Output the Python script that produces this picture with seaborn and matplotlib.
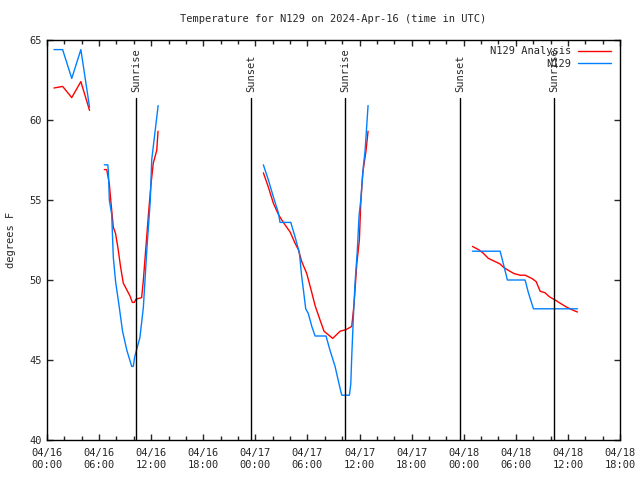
# %%
import pandas as pd
import seaborn as sns
import matplotlib
matplotlib.use("Agg")
import matplotlib.pyplot as plt
import matplotlib.dates as mdates

# %%
# hours after 2024-04-16 00:00 UTC, one list per gap-free stretch
start = pd.Timestamp("2024-04-16 00:00")

analysis_hours = [
    [0.8, 1.8, 2.85, 3.9, 4.9],
    [6.6, 6.88, 7.18, 7.34, 7.64, 7.9, 8.2, 8.48, 8.79, 9.18, 9.56, 9.83, 10.06, 10.25,
     10.9, 11.1, 11.37, 11.67, 11.98, 12.24, 12.64, 12.79],
    [24.92, 25.5, 26.07, 26.65, 27.22, 28.0, 28.57, 28.95, 29.34, 29.92, 30.41, 30.88,
     31.45, 31.91, 32.91, 33.76, 34.45, 35.1, 35.37, 35.68, 35.98, 36.14, 36.37, 36.75, 36.98],
    [49.0, 49.7, 50.2, 50.84, 51.23, 51.81, 52.19, 52.57, 53.15, 53.8, 54.5, 55.07,
     55.84, 56.34, 56.8, 57.37, 57.87, 58.53, 59.1, 59.87, 60.63, 61.1],
]
analysis_temps = [
    [62.0, 62.1, 61.4, 62.4, 60.6],
    [56.9, 56.9, 56.0, 55.0, 53.3, 52.9, 51.9, 50.8, 49.8, 49.4, 49.0, 48.6, 48.6, 48.8,
     48.9, 50.0, 51.9, 54.0, 56.0, 57.3, 58.1, 59.3],
    [56.7, 55.8, 54.8, 54.1, 53.6, 53.0, 52.3, 51.9, 51.15, 50.4, 49.4, 48.4,
     47.5, 46.8, 46.35, 46.8, 46.9, 47.1, 48.5, 51.0, 52.5, 54.8, 56.7, 58.1, 59.3],
    [52.1, 51.9, 51.7, 51.35, 51.25, 51.1, 51.0, 50.8, 50.6, 50.4, 50.3, 50.3,
     50.1, 49.9, 49.3, 49.2, 48.95, 48.75, 48.55, 48.3, 48.1, 48.0],
]

obs_hours = [
    [0.8, 1.8, 2.85, 3.9, 4.9],
    [6.6, 7.0, 7.07, 7.18, 7.45, 7.64, 7.9, 8.3, 8.7, 9.2, 9.76, 9.94, 10.1, 10.7,
     11.1, 11.5, 11.9, 12.06, 12.8],
    [24.92, 25.5, 26.07, 26.65, 26.84, 28.08, 28.57, 29.07, 29.34, 29.53, 29.8, 30.1,
     30.5, 30.88, 32.14, 32.6, 33.18, 33.64, 33.95, 34.83, 34.99, 35.1, 35.29, 35.48,
     35.75, 35.94, 36.14, 36.44, 36.64, 36.98],
    [49.0, 52.19, 52.57, 53.03, 55.07, 55.45, 56.03, 61.1],
]
obs_temps = [
    [64.4, 64.4, 62.6, 64.4, 60.8],
    [57.2, 57.2, 56.8, 55.0, 54.1, 51.4, 49.9, 48.4, 46.8, 45.6, 44.6, 44.6, 45.2, 46.4,
     48.3, 51.9, 55.0, 57.5, 60.9],
    [57.2, 56.25, 55.2, 54.2, 53.6, 53.6, 52.7, 51.7, 50.2, 49.4, 48.2, 47.9,
     47.1, 46.5, 46.5, 45.6, 44.6, 43.5, 42.8, 42.8, 43.5, 45.2, 47.7, 49.8,
     51.9, 54.0, 55.0, 57.1, 58.1, 60.9],
    [51.8, 51.8, 51.0, 50.0, 50.0, 49.2, 48.2, 48.2],
]

event_hours = [10.25, 23.5, 34.33, 47.58, 58.4]
event_labels = ["Sunrise", "Sunset", "Sunrise", "Sunset", "Sunrise"]

series_names = ["N129 Analysis", "N129"]
series_colors = {"N129 Analysis": "#ff0000", "N129": "#0080ff"}


# %%
def build_frame(name, hours_list, temps_list):
    rows = []
    for seg, (hrs, tmps) in enumerate(zip(hours_list, temps_list)):
        for h, t in zip(hrs, tmps):
            rows.append({"time": start + pd.Timedelta(hours=h), "temp": t,
                         "series": name, "seg": f"{name}_{seg}"})
    return pd.DataFrame(rows)


df = pd.concat([build_frame(series_names[0], analysis_hours, analysis_temps),
                build_frame(series_names[1], obs_hours, obs_temps)], ignore_index=True)

# %%
sns.set_style("ticks")
plt.rcParams["font.family"] = ["DejaVu Sans Mono"]
plt.rcParams["font.size"] = 7

fig = plt.figure(figsize=(6.4, 4.8), dpi=100)
ax = fig.add_axes([47 / 640, 40 / 480, 573 / 640, 400 / 480])

sns.lineplot(data=df, x="time", y="temp", hue="series", hue_order=series_names,
             units="seg", estimator=None, sort=False, palette=series_colors,
             linewidth=1, ax=ax)

for h, lab in zip(event_hours, event_labels):
    t = start + pd.Timedelta(hours=h)
    ax.axvline(t, ymin=0, ymax=0.855, color="black", linewidth=1)
    ax.text(t, 0.87, lab, transform=ax.get_xaxis_transform(), rotation=90,
            ha="center", va="bottom", fontsize=7.5)

ax.set_xlim(start, start + pd.Timedelta(hours=66))
ax.set_ylim(40, 65)
ax.set_yticks([40, 45, 50, 55, 60, 65])
ax.xaxis.set_major_locator(mdates.HourLocator(byhour=[0, 6, 12, 18]))
ax.xaxis.set_minor_locator(mdates.HourLocator(byhour=list(range(0, 24, 2))))
ax.xaxis.set_major_formatter(mdates.DateFormatter("%m/%d\n%H:%M"))
ax.tick_params(which="both", direction="in", top=True, right=True, width=1, labelsize=7.5)
ax.tick_params(which="major", length=4.5)
ax.tick_params(which="minor", length=3)
ax.tick_params(axis="x", pad=6)
for s in ax.spines.values():
    s.set_linewidth(1)
    s.set_color("black")

ax.set_xlabel("")
ax.set_ylabel("degrees F", fontsize=7.5, labelpad=10)
ax.set_title("Temperature for N129 on 2024-Apr-16 (time in UTC)", fontsize=7.5, pad=13)

handles, labels = ax.get_legend_handles_labels()
ax.legend(handles, labels, loc="upper right", frameon=False, markerfirst=False,
          fontsize=7.5, handlelength=3.2, handletextpad=0.6, labelspacing=0.25,
          borderaxespad=0.2, bbox_to_anchor=(0.995, 1.0))

fig.savefig("out.png", dpi=100)
